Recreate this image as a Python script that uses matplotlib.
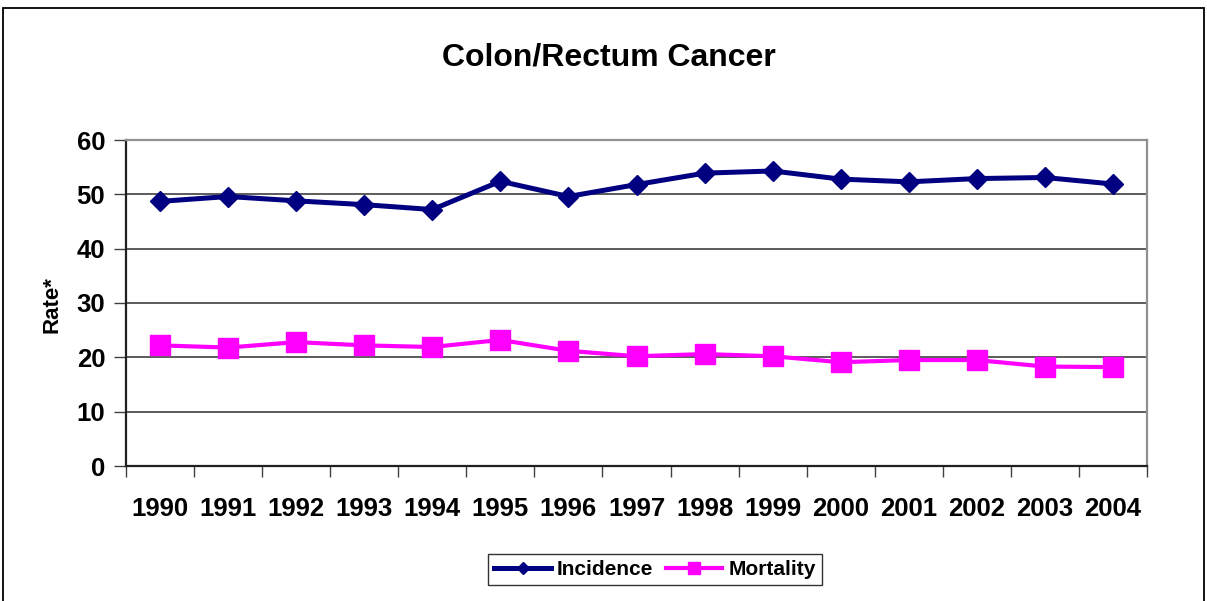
import matplotlib
matplotlib.use("Agg")
import matplotlib.pyplot as plt
from matplotlib.patches import Rectangle
import numpy as np

plt.rcParams["font.family"] = ["Liberation Sans", "DejaVu Sans"]

years = ["1990", "1991", "1992", "1993", "1994", "1995", "1996", "1997",
         "1998", "1999", "2000", "2001", "2002", "2003", "2004"]
incidence = [48.7, 49.6, 48.8, 48.1, 47.2, 52.4, 49.6, 51.8,
             53.9, 54.3, 52.8, 52.3, 52.9, 53.1, 51.9]
mortality = [22.2, 21.8, 22.8, 22.2, 21.9, 23.2, 21.2, 20.2,
             20.6, 20.2, 19.1, 19.5, 19.5, 18.3, 18.2]

W, H = 1207, 601
fig = plt.figure(figsize=(W / 100, H / 100), dpi=100)
ax = fig.add_axes([126 / W, 1 - 466 / H, (1147 - 126) / W, (466 - 140) / H])

x = np.arange(len(years))
ax.plot(x, incidence, color="#000080", lw=3.6, marker="D", ms=10.5,
        mec="#000080", label="Incidence", zorder=3)
ax.plot(x, mortality, color="#FF00FF", lw=3.0, marker="s", ms=14,
        mec="#FF00FF", label="Mortality", zorder=3)

ax.set_xlim(-0.5, len(years) - 0.5)
ax.set_ylim(0, 60)
ax.set_yticks(range(0, 61, 10))
ax.set_xticks(x)
ax.set_xticklabels(years)
ax.set_xticks(np.arange(-0.5, len(years), 1), minor=True)
ax.tick_params(axis="x", which="major", length=0, pad=22, labelsize=18.5)
ax.tick_params(axis="x", which="minor", length=8, width=1, direction="out", color="#404040")
ax.tick_params(axis="y", length=9, width=1, direction="out", pad=6,
               labelsize=18.5, color="#404040")
for lbl in ax.get_xticklabels() + ax.get_yticklabels():
    lbl.set_fontweight("bold")

ax.grid(axis="y", color="#404040", lw=1.2)
ax.set_axisbelow(True)
ax.spines["left"].set_color("#202020")
ax.spines["bottom"].set_color("#202020")
ax.spines["top"].set_color("#909090")
ax.spines["right"].set_color("#909090")
for s in ax.spines.values():
    s.set_linewidth(1.6)

fig.text(52 / W, 1 - 305 / H, "Rate*", rotation=90, ha="center", va="center",
         fontsize=16, fontweight="semibold")
fig.text(609 / W, 1 - 58 / H, "Colon/Rectum Cancer", ha="center", va="center",
         fontsize=23, fontweight="bold")

leg = fig.legend(loc="center", bbox_to_anchor=(655 / W, 1 - 569.5 / H), ncol=2,
                 frameon=True, fancybox=False, shadow=False, markerscale=0.6,
                 handlelength=2.7, handletextpad=0.3, columnspacing=0.6,
                 borderpad=0.3, borderaxespad=0.2,
                 prop={"size": 15, "weight": "bold"})
leg.get_frame().set_edgecolor("black")
leg.get_frame().set_linewidth(1.0)

fig.patches.append(Rectangle((3 / W, -0.01), (1204 - 3) / W, 1.01 - 8 / H,
                             transform=fig.transFigure, fill=False,
                             edgecolor="black", lw=1.3))

fig.savefig("out.png", dpi=100)
